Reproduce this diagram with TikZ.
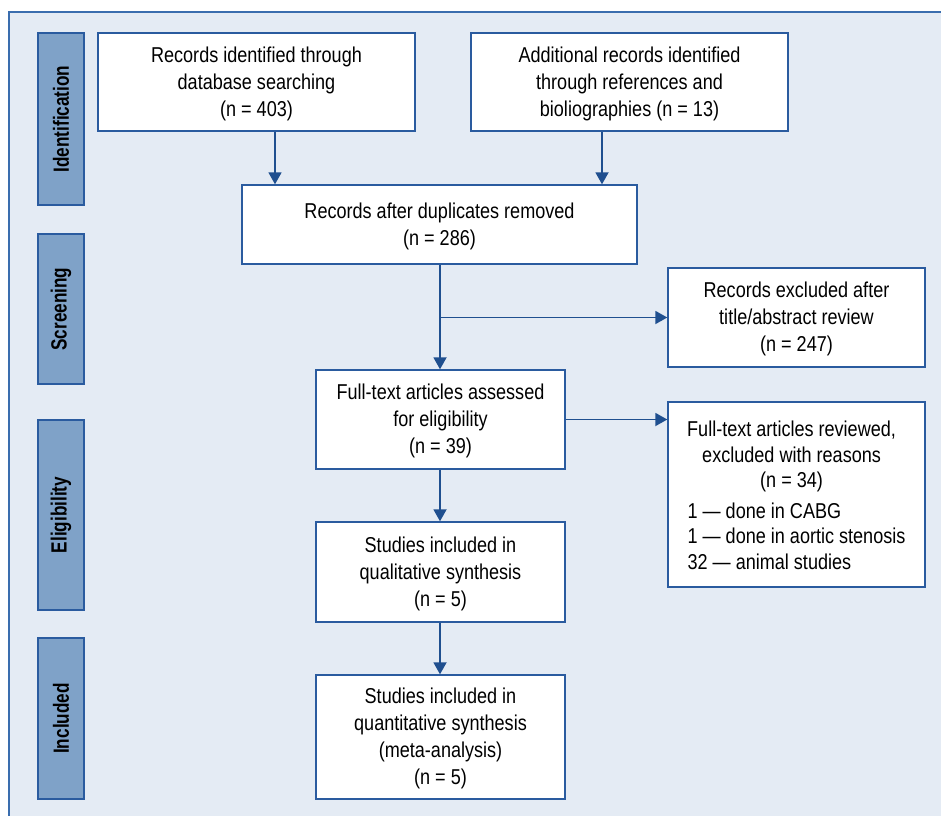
\documentclass[tikz,border=0pt]{standalone}
\usepackage{fontspec}
\setmainfont{Liberation Sans}[FakeStretch=0.84]
\newfontfamily\labfont{Liberation Sans}[FakeStretch=0.78]
\usetikzlibrary{arrows.meta}
\definecolor{panelfill}{HTML}{E4EBF4}
\definecolor{panelline}{HTML}{3A6DAE}
\definecolor{boxline}{HTML}{2A5B9F}
\definecolor{sidefill}{HTML}{7FA2C8}
\definecolor{arrowcol}{HTML}{1F4F8F}
\tikzset{
  stagebox/.style={draw=boxline, line width=1.4pt, fill=white, inner sep=0pt, align=center,
    font=\fontsize{21.5}{27}\selectfont},
  sidebox/.style={draw=boxline, line width=1.4pt, fill=sidefill, inner sep=0pt, rotate=90,
    minimum height=46pt, font=\labfont\bfseries\fontsize{22}{26}\selectfont},
  flow/.style={draw=arrowcol, line width=1.8pt, -{Triangle[length=12pt,width=13pt]}}
}
\begin{document}
\begin{tikzpicture}[x=1pt,y=-1pt]
\useasboundingbox (0,0) rectangle (941,816);
\fill[panelfill] (9,12) rectangle (941,816);
\draw[panelline, line width=2pt] (941,12) -- (9,12) -- (9,816);

% side labels
\node[sidebox, minimum width=172pt] (sid) at (61,119) {Identification};
\node[sidebox, minimum width=150pt] (ssc) at (61,309) {Screening};
\node[sidebox, minimum width=190pt] (sel) at (61,515) {Eligibility};
\node[sidebox, minimum width=161pt] (sin) at (61,718.5) {Included};

% boxes
\node[stagebox, minimum width=317pt, minimum height=98pt] (A) at (256.5,82)
  {\rule{0pt}{19pt}Records identified through\\database searching\\(n = 403)};
\node[stagebox, minimum width=317pt, minimum height=98pt] (B) at (629.5,82)
  {\rule{0pt}{19pt}Additional records identified\\through references and\\bioliographies (n = 13)};
\node[stagebox, minimum width=395pt, minimum height=79pt] (C) at (439.5,224.5)
  {\rule{0pt}{19pt}Records after duplicates removed\\(n = 286)};
\node[stagebox, minimum width=257pt, minimum height=99pt] (D) at (796.5,317.5)
  {\rule{0pt}{19pt}Records excluded after\\title/abstract review\\(n = 247)};
\node[stagebox, minimum width=249pt, minimum height=99pt] (E) at (440.5,419.5)
  {\rule{0pt}{19pt}Full-text articles assessed\\for eligibility\\(n = 39)};
\node[stagebox, minimum width=257pt, minimum height=185pt, align=left,
      font=\fontsize{21.5}{25.5}\selectfont] (F) at (796.5,494.5)
  {\makebox[208pt]{\rule{0pt}{17pt}Full-text articles reviewed,}\\
   \makebox[208pt]{excluded with reasons}\\
   \makebox[208pt]{(n = 34)}\\[5pt]
   1 — done in CABG\\
   1 — done in aortic stenosis\hspace{5pt}\\
   32 — animal studies};
\node[stagebox, minimum width=249pt, minimum height=100pt] (G) at (440.5,572)
  {\rule{0pt}{19pt}Studies included in\\qualitative synthesis\\(n = 5)};
\node[stagebox, minimum width=249pt, minimum height=124pt] (H) at (440.5,737)
  {\rule{0pt}{19pt}Studies included in\\quantitative synthesis\\(meta-analysis)\\(n = 5)};

% connectors
\coordinate (xa) at (275,0);
\coordinate (xb) at (602,0);
\coordinate (xc) at (440,0);
\draw[flow] (A.south -| xa) -- (C.north -| xa);
\draw[flow] (B.south -| xb) -- (C.north -| xb);
\draw[flow] (C.south -| xc) -- (E.north -| xc);
\path (xc |- D.west) coordinate (br);
\draw[flow] (br) -- (D.west);
\draw[flow] (E.east) -- (E.east -| F.west);
\draw[flow] (E.south -| xc) -- (G.north -| xc);
\draw[flow] (G.south -| xc) -- (H.north -| xc);
\end{tikzpicture}
\end{document}
